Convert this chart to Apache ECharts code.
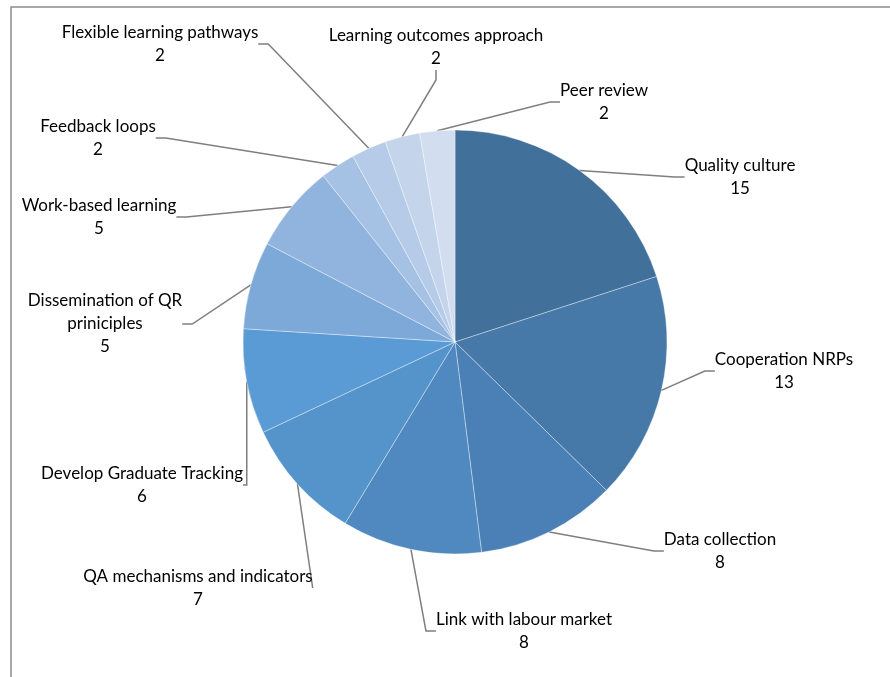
<!DOCTYPE html>
<html>
<head>
<meta charset="utf-8">
<script src="https://cdn.jsdelivr.net/npm/echarts@6/dist/echarts.min.js"></script>
<style>
html, body { margin: 0; padding: 0; background: #fff; }
#main { width: 890px; height: 677px; }
</style>
</head>
<body>
<div id="main"></div>
<script>
// categories and values, clockwise from 12 o'clock
var categories = ['Quality culture', 'Cooperation NRPs', 'Data collection',
	'Link with labour market', 'QA mechanisms and indicators',
	'Develop Graduate Tracking', 'Dissemination of QR priniciples',
	'Work-based learning', 'Feedback loops', 'Flexible learning pathways',
	'Learning outcomes approach', 'Peer review'];
var values = [15, 13, 8, 8, 7, 6, 5, 5, 2, 2, 2, 2];
var colors = ['#41709b', '#4679a8', '#4a80b6', '#4f89c0', '#5593cb', '#5a9bd5',
	'#7da9d9', '#91b4de', '#a5c1e4', '#b5cbe8', '#c3d4eb', '#d2deef'];

// where Excel put each data label (centre of the text block)
var labelPos = [[740, 177], [784, 371], [720, 551], [524, 631], [198, 588],
	[142, 485], [105, 324], [99, 217], [98, 138], [160, 44], [436, 47], [604, 102]];

var pieData = [];
for (var i = 0; i < categories.length; i++) {
	pieData.push({
		name : categories[i],
		value : values[i],
		itemStyle : { color : colors[i] }
	});
}

var option = {
	animation : false,
	graphic : [ {
		type : 'rect',
		shape : { x : 11, y : 7, width : 900, height : 700 },
		style : { fill : 'none', stroke : '#8c8c8c', lineWidth : 1.5 }
	} ],
	series : [ {
		type : 'pie',
		center : [ 455, 342 ],
		radius : 212,
		startAngle : 90,
		clockwise : true,
		avoidLabelOverlap : false,
		itemStyle : {
			borderColor : 'rgba(255,255,255,0.6)',
			borderWidth : 0.6
		},
		label : {
			show : true,
			position : 'outside',
			color : '#000',
			fontFamily : 'Lato',
			fontSize : 17,
			lineHeight : 23,
			align : 'center',
			formatter : function(p) {
				return p.name.replace('QR ', 'QR\n') + '\n' + p.value;
			}
		},
		labelLine : {
			show : true,
			length : 10,
			length2 : 10,
			lineStyle : { color : '#7f7f7f', width : 1.5 }
		},
		labelLayout : function(params) {
			var pos = labelPos[params.dataIndex];
			return {
				x : pos[0],
				y : pos[1],
				align : 'center',
				verticalAlign : 'middle'
			};
		},
		data : pieData
	} ]
};

var myChart = echarts.init(document.getElementById('main'));
myChart.setOption(option);
</script>
</body>
</html>
